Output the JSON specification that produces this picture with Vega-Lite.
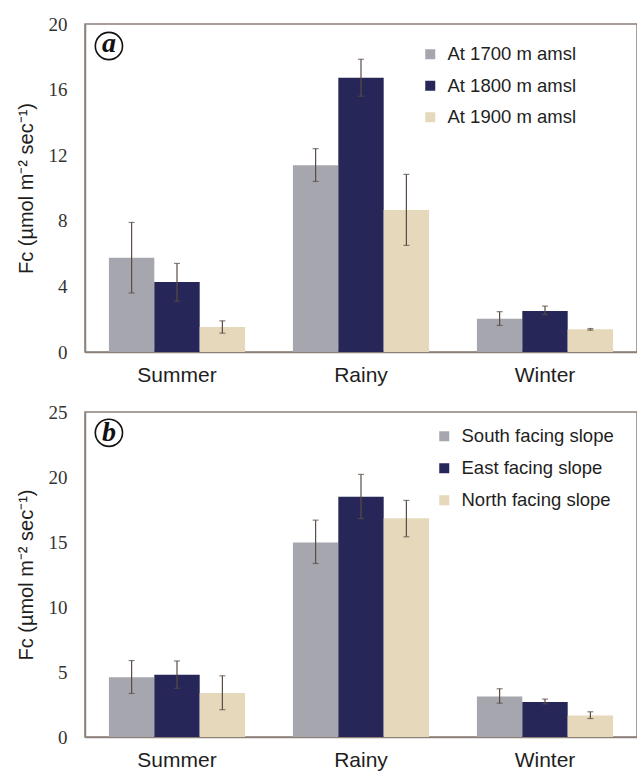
{
  "$schema": "https://vega.github.io/schema/vega-lite/v6.json",
  "padding": {"top": 14, "left": 15, "right": 0, "bottom": 5},
  "spacing": 16,
  "background": "white",
  "config": {
    "view": {"stroke": "#8c8079", "strokeWidth": 1.5},
    "axis": {"grid": false, "domainColor": "#8c8079", "domainWidth": 1.5, "tickColor": "#8c8079"},
    "axisX": {"title": null, "labelAngle": 0, "labelFont": "Liberation Sans", "labelFontSize": 21, "labelColor": "#1e1e1e", "labelPadding": 12, "ticks": false},
    "axisY": {"labelFont": "Liberation Serif", "labelFontSize": 19, "labelColor": "#333333", "labelPadding": 18, "ticks": false, "titleFont": "Liberation Sans", "titleFontSize": 20, "titleFontWeight": "normal", "titleColor": "#1e1e1e", "titlePadding": 12},
    "legend": {"title": null, "labelFont": "Liberation Sans", "labelFontSize": 18.5, "labelColor": "#1e1e1e", "symbolType": "square", "symbolSize": 100, "symbolStrokeWidth": 0, "rowPadding": 12.5, "labelOffset": 8, "orient": "none"}
  },
  "resolve": {"scale": {"x": "independent", "y": "independent", "color": "independent", "xOffset": "independent"}, "legend": {"color": "independent"}},
  "datasets": {
    "a": [
      {"season": "Summer", "group": "At 1700 m amsl", "value": 5.75, "lo": 3.6, "hi": 7.9},
      {"season": "Summer", "group": "At 1800 m amsl", "value": 4.27, "lo": 3.1, "hi": 5.4},
      {"season": "Summer", "group": "At 1900 m amsl", "value": 1.52, "lo": 1.15, "hi": 1.9},
      {"season": "Rainy", "group": "At 1700 m amsl", "value": 11.38, "lo": 10.4, "hi": 12.4},
      {"season": "Rainy", "group": "At 1800 m amsl", "value": 16.73, "lo": 15.6, "hi": 17.85},
      {"season": "Rainy", "group": "At 1900 m amsl", "value": 8.66, "lo": 6.5, "hi": 10.83},
      {"season": "Winter", "group": "At 1700 m amsl", "value": 2.03, "lo": 1.62, "hi": 2.46},
      {"season": "Winter", "group": "At 1800 m amsl", "value": 2.5, "lo": 2.28, "hi": 2.8},
      {"season": "Winter", "group": "At 1900 m amsl", "value": 1.38, "lo": 1.33, "hi": 1.43}
    ],
    "b": [
      {"season": "Summer", "group": "South facing slope", "value": 4.6, "lo": 3.35, "hi": 5.88},
      {"season": "Summer", "group": "East facing slope", "value": 4.78, "lo": 3.75, "hi": 5.85},
      {"season": "Summer", "group": "North facing slope", "value": 3.38, "lo": 2.1, "hi": 4.71},
      {"season": "Rainy", "group": "South facing slope", "value": 14.97, "lo": 13.35, "hi": 16.68},
      {"season": "Rainy", "group": "East facing slope", "value": 18.48, "lo": 16.8, "hi": 20.2},
      {"season": "Rainy", "group": "North facing slope", "value": 16.82, "lo": 15.4, "hi": 18.2},
      {"season": "Winter", "group": "South facing slope", "value": 3.12, "lo": 2.6, "hi": 3.71},
      {"season": "Winter", "group": "East facing slope", "value": 2.69, "lo": 2.55, "hi": 2.92},
      {"season": "Winter", "group": "North facing slope", "value": 1.66, "lo": 1.42, "hi": 1.94}
    ]
  },
  "vconcat": [
    {
      "width": 552,
      "height": 328,
      "data": {"name": "a"},
      "layer": [
        {
          "mark": {"type": "bar"},
          "encoding": {
            "x": {"field": "season", "type": "nominal", "sort": ["Summer", "Rainy", "Winter"], "scale": {"paddingInner": 0.26, "paddingOuter": 0.13}},
            "xOffset": {"field": "group", "type": "nominal", "sort": ["At 1700 m amsl", "At 1800 m amsl", "At 1900 m amsl"], "scale": {"paddingInner": 0, "paddingOuter": 0}},
            "y": {"field": "value", "type": "quantitative", "title": "Fc (µmol m⁻² sec⁻¹)", "scale": {"domain": [0, 20], "nice": false}, "axis": {"values": [0, 4, 8, 12, 16, 20]}},
            "color": {"field": "group", "type": "nominal", "scale": {"domain": ["At 1700 m amsl", "At 1800 m amsl", "At 1900 m amsl"], "range": ["#a6a6ae", "#262758", "#e6d8ba"]}, "legend": {"legendX": 336, "legendY": 21}}
          }
        },
        {
          "mark": {"type": "rule", "color": "#5a4c44", "strokeWidth": 1.2},
          "encoding": {
            "x": {"field": "season", "type": "nominal", "sort": ["Summer", "Rainy", "Winter"]},
            "xOffset": {"field": "group", "type": "nominal", "sort": ["At 1700 m amsl", "At 1800 m amsl", "At 1900 m amsl"]},
            "y": {"field": "lo", "type": "quantitative", "title": "Fc (µmol m⁻² sec⁻¹)", "scale": {"domain": [0, 20], "nice": false}},
            "y2": {"field": "hi"}
          }
        },
        {
          "mark": {"type": "tick", "color": "#5a4c44", "size": 6, "thickness": 1.2, "orient": "horizontal"},
          "encoding": {
            "x": {"field": "season", "type": "nominal", "sort": ["Summer", "Rainy", "Winter"]},
            "xOffset": {"field": "group", "type": "nominal", "sort": ["At 1700 m amsl", "At 1800 m amsl", "At 1900 m amsl"]},
            "y": {"field": "lo", "type": "quantitative", "title": "Fc (µmol m⁻² sec⁻¹)", "scale": {"domain": [0, 20], "nice": false}}
          }
        },
        {
          "mark": {"type": "tick", "color": "#5a4c44", "size": 6, "thickness": 1.2, "orient": "horizontal"},
          "encoding": {
            "x": {"field": "season", "type": "nominal", "sort": ["Summer", "Rainy", "Winter"]},
            "xOffset": {"field": "group", "type": "nominal", "sort": ["At 1700 m amsl", "At 1800 m amsl", "At 1900 m amsl"]},
            "y": {"field": "hi", "type": "quantitative", "title": "Fc (µmol m⁻² sec⁻¹)", "scale": {"domain": [0, 20], "nice": false}}
          }
        },
        {
          "data": {"values": [{"season": "Summer", "v": 18.66, "t": "a"}]},
          "mark": {"type": "point", "shape": "circle", "size": 740, "filled": false, "stroke": "#111111", "strokeWidth": 1.6, "opacity": 1},
          "encoding": {
            "x": {"field": "season", "type": "nominal", "sort": ["Summer", "Rainy", "Winter"], "bandPosition": 0},
            "y": {"field": "v", "type": "quantitative", "title": "Fc (µmol m⁻² sec⁻¹)", "scale": {"domain": [0, 20], "nice": false}}
          }
        },
        {
          "data": {"values": [{"season": "Summer", "v": 18.66, "t": "a"}]},
          "mark": {"type": "text", "font": "Liberation Serif", "fontStyle": "italic", "fontWeight": "bold", "fontSize": 28, "color": "#111111", "align": "center", "baseline": "middle", "dy": -2},
          "encoding": {
            "x": {"field": "season", "type": "nominal", "sort": ["Summer", "Rainy", "Winter"], "bandPosition": 0},
            "y": {"field": "v", "type": "quantitative", "title": "Fc (µmol m⁻² sec⁻¹)", "scale": {"domain": [0, 20], "nice": false}},
            "text": {"field": "t"}
          }
        }
      ]
    },
    {
      "width": 552,
      "height": 325,
      "data": {"name": "b"},
      "layer": [
        {
          "mark": {"type": "bar"},
          "encoding": {
            "x": {"field": "season", "type": "nominal", "sort": ["Summer", "Rainy", "Winter"], "scale": {"paddingInner": 0.26, "paddingOuter": 0.13}},
            "xOffset": {"field": "group", "type": "nominal", "sort": ["South facing slope", "East facing slope", "North facing slope"], "scale": {"paddingInner": 0, "paddingOuter": 0}},
            "y": {"field": "value", "type": "quantitative", "title": "Fc (µmol m⁻² sec⁻¹)", "scale": {"domain": [0, 25], "nice": false}, "axis": {"values": [0, 5, 10, 15, 20, 25]}},
            "color": {"field": "group", "type": "nominal", "scale": {"domain": ["South facing slope", "East facing slope", "North facing slope"], "range": ["#a6a6ae", "#262758", "#e6d8ba"]}, "legend": {"legendX": 350, "legendY": 15, "rowPadding": 13}}
          }
        },
        {
          "mark": {"type": "rule", "color": "#5a4c44", "strokeWidth": 1.2},
          "encoding": {
            "x": {"field": "season", "type": "nominal", "sort": ["Summer", "Rainy", "Winter"]},
            "xOffset": {"field": "group", "type": "nominal", "sort": ["South facing slope", "East facing slope", "North facing slope"]},
            "y": {"field": "lo", "type": "quantitative", "title": "Fc (µmol m⁻² sec⁻¹)", "scale": {"domain": [0, 25], "nice": false}},
            "y2": {"field": "hi"}
          }
        },
        {
          "mark": {"type": "tick", "color": "#5a4c44", "size": 6, "thickness": 1.2, "orient": "horizontal"},
          "encoding": {
            "x": {"field": "season", "type": "nominal", "sort": ["Summer", "Rainy", "Winter"]},
            "xOffset": {"field": "group", "type": "nominal", "sort": ["South facing slope", "East facing slope", "North facing slope"]},
            "y": {"field": "lo", "type": "quantitative", "title": "Fc (µmol m⁻² sec⁻¹)", "scale": {"domain": [0, 25], "nice": false}}
          }
        },
        {
          "mark": {"type": "tick", "color": "#5a4c44", "size": 6, "thickness": 1.2, "orient": "horizontal"},
          "encoding": {
            "x": {"field": "season", "type": "nominal", "sort": ["Summer", "Rainy", "Winter"]},
            "xOffset": {"field": "group", "type": "nominal", "sort": ["South facing slope", "East facing slope", "North facing slope"]},
            "y": {"field": "hi", "type": "quantitative", "title": "Fc (µmol m⁻² sec⁻¹)", "scale": {"domain": [0, 25], "nice": false}}
          }
        },
        {
          "data": {"values": [{"season": "Summer", "v": 23.4, "t": "b"}]},
          "mark": {"type": "point", "shape": "circle", "size": 740, "filled": false, "stroke": "#111111", "strokeWidth": 1.6, "opacity": 1},
          "encoding": {
            "x": {"field": "season", "type": "nominal", "sort": ["Summer", "Rainy", "Winter"], "bandPosition": 0},
            "y": {"field": "v", "type": "quantitative", "title": "Fc (µmol m⁻² sec⁻¹)", "scale": {"domain": [0, 25], "nice": false}}
          }
        },
        {
          "data": {"values": [{"season": "Summer", "v": 23.4, "t": "b"}]},
          "mark": {"type": "text", "font": "Liberation Serif", "fontStyle": "italic", "fontWeight": "bold", "fontSize": 28, "color": "#111111", "align": "center", "baseline": "middle", "dy": 0},
          "encoding": {
            "x": {"field": "season", "type": "nominal", "sort": ["Summer", "Rainy", "Winter"], "bandPosition": 0},
            "y": {"field": "v", "type": "quantitative", "title": "Fc (µmol m⁻² sec⁻¹)", "scale": {"domain": [0, 25], "nice": false}},
            "text": {"field": "t"}
          }
        }
      ]
    }
  ]
}
